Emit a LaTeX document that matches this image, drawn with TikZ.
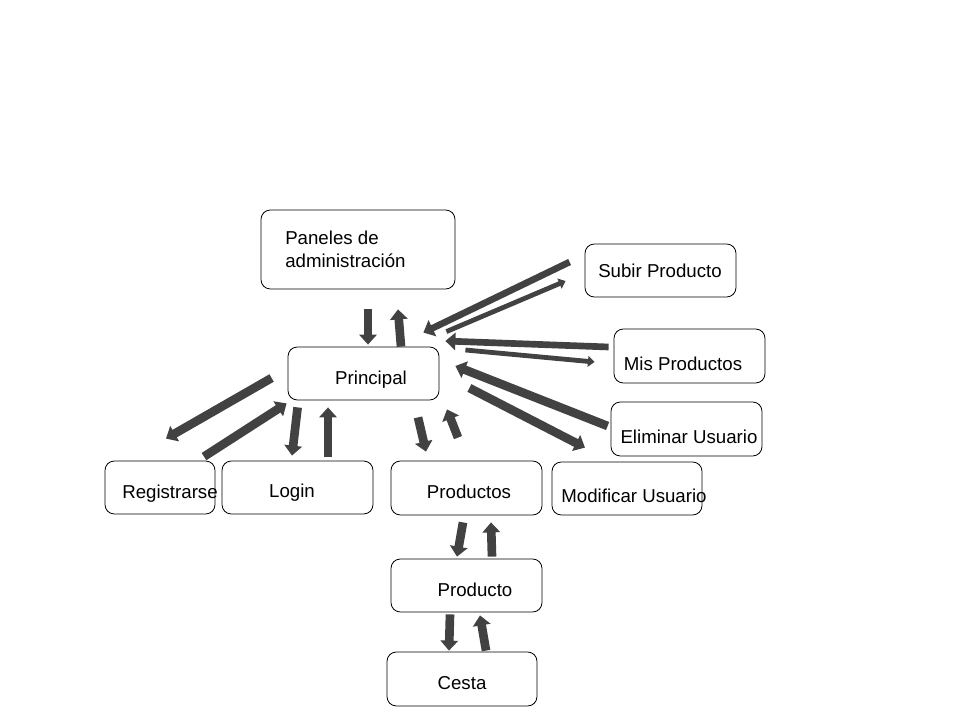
\documentclass[tikz,border=0pt]{standalone}
\usepackage{fontspec}
\setmainfont{Liberation Sans}
\usetikzlibrary{arrows.meta,calc,fit}

\begin{document}
\begin{tikzpicture}[x=0.75pt,y=-0.75pt]
    \tikzset{caja/.style={draw, line width=0.6pt, rounded corners=7pt, inner sep=0pt},
             texto/.style={font=\fontsize{14pt}{17.5pt}\selectfont, inner sep=0pt, anchor=base},
             flecha/.style={draw=black, line width=6.5pt, black!74, -{Triangle[length=7.5pt,width=13pt]}},
             flechafina/.style={black!74, line width=3.6pt, -{Triangle[length=5pt,width=8pt]}}}
    \useasboundingbox (0,0) rectangle (960,720);

    \node[caja, fit={(261,210) (455,289)}] (paneles) {};
    \node[caja, fit={(585,244) (736,297)}] (subir) {};
    \node[caja, fit={(288,347) (439,400)}] (principal) {};
    \node[caja, fit={(614,329) (765,383)}] (mis) {};
    \node[caja, fit={(611,402) (762,456)}] (eliminar) {};
    \node[caja, fit={(105,461) (215,514)}] (registrarse) {};
    \node[caja, fit={(222,461) (373,514)}] (login) {};
    \node[caja, fit={(391,461) (542,515)}] (productos) {};
    \node[caja, fit={(552,462) (702,515)}] (modificar) {};
    \node[caja, fit={(391,559) (542,612)}] (producto) {};
    \node[caja, fit={(387,652) (537,706)}] (cesta) {};

    \node[texto, anchor=west, align=left] (paneles t) at (285,249) {Paneles de\\administración};
    \node[texto] (subir t) at (660,277) {Subir Producto};
    \node[texto] (principal t) at (371,384) {Principal};
    \node[texto] (mis t) at (683,370) {Mis Productos};
    \node[texto] (eliminar t) at (689,443) {Eliminar Usuario};
    \node[texto] (registrarse t) at (170,498) {Registrarse};
    \node[texto] (login t) at (292,497) {Login};
    \node[texto] (productos t) at (469,498) {Productos};
    \node[texto] (modificar t) at (634,502) {Modificar Usuario};
    \node[texto] (producto t) at (475,596) {Producto};
    \node[texto] (cesta t) at (462,689) {Cesta};

    \draw[flecha] ($(paneles.south)+(10,20)$) -- ($(principal.north)+(4.5,-2)$);
    \draw[flecha] ($(principal.north)+(37.5,0)$) -- ($(paneles.south)+(40,20)$);
    \draw[flecha, line width=5pt] ($(subir.west)+(-15,-8.5)$) -- ($(principal.north east)+(-16,-14)$);
    \draw[flechafina] ($(principal.north east)+(7,-15)$) -- ($(subir.west)+(-19,10.5)$);
    \draw[flecha, line width=5pt] ($(mis.west)+(-5,-9)$) -- ($(principal.east)+(6,-32.5)$);
    \draw[flechafina] ($(principal.east)+(26,-23.5)$) -- ($(mis.west)+(-19,6)$);
    \draw[flecha] ($(eliminar.west)+(-3,-3)$) -- ($(principal.east)+(16,-7.5)$);
    \draw[flecha] ($(principal.east)+(30,14.5)$) -- ($(modificar.north)+(-42,-14)$);
    \draw[flecha] ($(principal.west)+(-16,4.5)$) -- ($(registrarse.north)+(6,-22)$);
    \draw[flecha] ($(registrarse.north)+(44,-4)$) -- ($(principal.south west)+(-1,3)$);
    \draw[flecha] ($(principal.south west)+(10,7)$) -- ($(login.north)+(-5.5,-5)$);
    \draw[flecha] ($(login.north)+(30.5,-4)$) -- ($(principal.south)+(-35.5,7)$);
    \draw[flecha] ($(principal.south)+(54.5,17)$) -- ($(productos.north)+(-40.5,-9)$);
    \draw[flecha] ($(productos.north)+(-8.5,-23)$) -- ($(principal.south)+(83.5,9)$);
    \draw[flecha] ($(productos.south)+(-3.5,7)$) -- ($(producto.north)+(-9.5,-2)$);
    \draw[flecha] ($(producto.north)+(25.5,-2)$) -- ($(productos.south)+(24.5,7)$);
    \draw[flecha] ($(producto.south)+(-16.5,2)$) -- ($(cesta.north)+(-13,-1)$);
    \draw[flecha] ($(cesta.north)+(24,-1)$) -- ($(producto.south)+(13.5,3)$);
  \end{tikzpicture}
\end{document}
